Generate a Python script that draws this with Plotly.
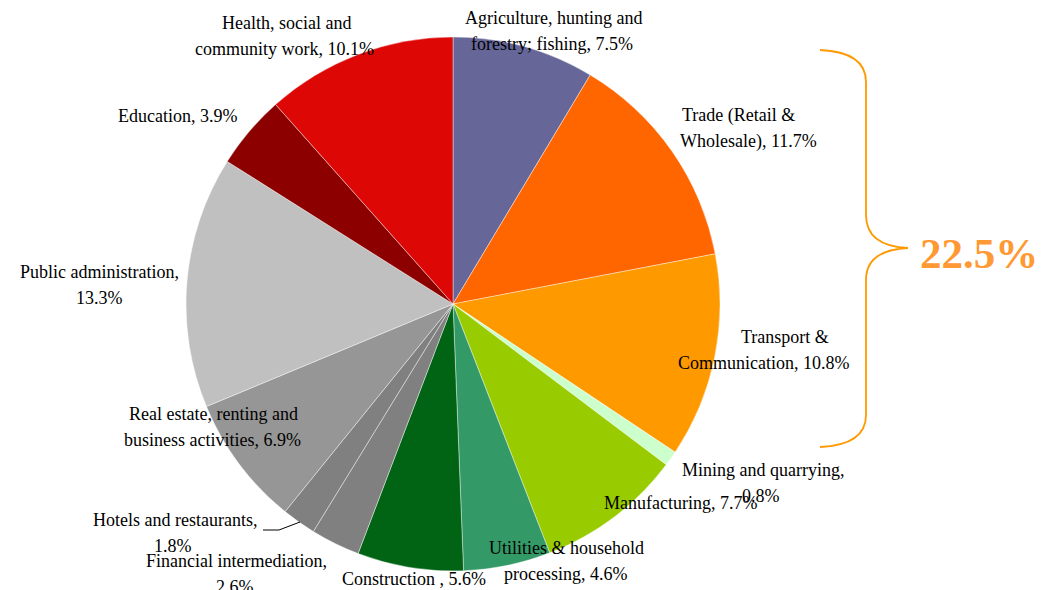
import plotly.graph_objects as go

W, H = 1051, 590

categories = [
    "Agriculture, hunting and forestry; fishing", "Trade (Retail & Wholesale)",
    "Transport & Communication", "Mining and quarrying", "Manufacturing",
    "Utilities & household processing", "Construction", "Financial intermediation",
    "Hotels and restaurants", "Real estate, renting and business activities",
    "Public administration", "Education", "Health, social and community work",
]
values = [7.5, 11.7, 10.8, 0.8, 7.7, 4.6, 5.6, 2.6, 1.8, 6.9, 13.3, 3.9, 10.1]
label_lines = [
    ["Agriculture, hunting and", "forestry; fishing, 7.5%"],
    ["Trade (Retail &", "Wholesale), 11.7%"],
    ["Transport &", "Communication, 10.8%"],
    ["Mining and quarrying,", "0.8%"],
    ["Manufacturing, 7.7%"],
    ["Utilities & household", "processing, 4.6%"],
    ["Construction , 5.6%"],
    ["Financial intermediation,", "2.6%"],
    ["Hotels and restaurants,", "1.8%"],
    ["Real estate, renting and", "business activities, 6.9%"],
    ["Public administration,", "13.3%"],
    ["Education, 3.9%"],
    ["Health, social and", "community work, 10.1%"],
]
bracket_total = "22.5%"

colors = ["#666699", "#FF6600", "#FF9900", "#CCFFCC", "#99CC00", "#339966", "#006414",
          "#808080", "#808080", "#969696", "#C0C0C0", "#8C0000", "#DD0806"]

# label line centers in pixels (x, y)
label_pos = [
    [(553, 18), (552, 44)],
    [(738, 115), (748, 141)],
    [(785, 337), (763, 363)],
    [(763, 470), (761, 496)],
    [(680, 503)],
    [(566, 548), (565, 574)],
    [(414, 579)],
    [(236, 561), (235, 587)],
    [(175, 520), (173, 546)],
    [(213, 414), (212, 440)],
    [(99, 272), (99, 298)],
    [(177, 116)],
    [(286, 23), (284, 49)],
]

def px(x, y):
    return x / W, 1 - y / H

cx, cy, r = 453, 304, 267
fig = go.Figure(go.Pie(
    labels=categories, values=values, sort=False, direction="clockwise", rotation=0,
    marker=dict(colors=colors, line=dict(color="rgba(255,255,255,0.6)", width=0.7)),
    textinfo="none", showlegend=False,
    domain=dict(x=[(cx - r) / W, (cx + r) / W], y=[1 - (cy + r) / H, 1 - (cy - r) / H]),
))

font = dict(family="Liberation Serif, Times New Roman, serif", size=18, color="black")
ann = []
for lines, poss in zip(label_lines, label_pos):
    for t, (x, y) in zip(lines, poss):
        xx, yy = px(x, y)
        ann.append(dict(text=t, x=xx, y=yy, xref="paper", yref="paper", showarrow=False,
                        xanchor="center", yanchor="middle", font=font))

tx, ty = px(979, 253)
ann.append(dict(text="<b>" + bracket_total + "</b>", x=tx, y=ty, xref="paper", yref="paper",
                showarrow=False, xanchor="center", yanchor="middle",
                font=dict(family="Liberation Serif, Times New Roman, serif", size=43, color="#FF9933")))

def P(x, y):
    a, b = px(x, y)
    return f"{a:.5f},{b:.5f}"

brace = (f"M {P(820,50)} Q {P(866,52)} {P(866,82)} L {P(866,215)} "
         f"Q {P(866,246)} {P(908,248)} Q {P(866,250)} {P(866,280)} "
         f"L {P(866,415)} Q {P(866,445)} {P(820,447)}")
leader = f"M {P(263,530)} L {P(279,530)} L {P(300,522)}"

fig.update_layout(
    width=W, height=H, margin=dict(l=0, r=0, t=0, b=0),
    paper_bgcolor="white", plot_bgcolor="white",
    annotations=ann,
    shapes=[
        dict(type="path", path=brace, xref="paper", yref="paper",
             line=dict(color="#FF9900", width=1.8)),
        dict(type="path", path=leader, xref="paper", yref="paper",
             line=dict(color="black", width=1)),
    ],
)
fig.write_html("out.html", config={"displayModeBar": False},
               post_script="document.body.style.margin='0';document.body.style.overflow='hidden';")
